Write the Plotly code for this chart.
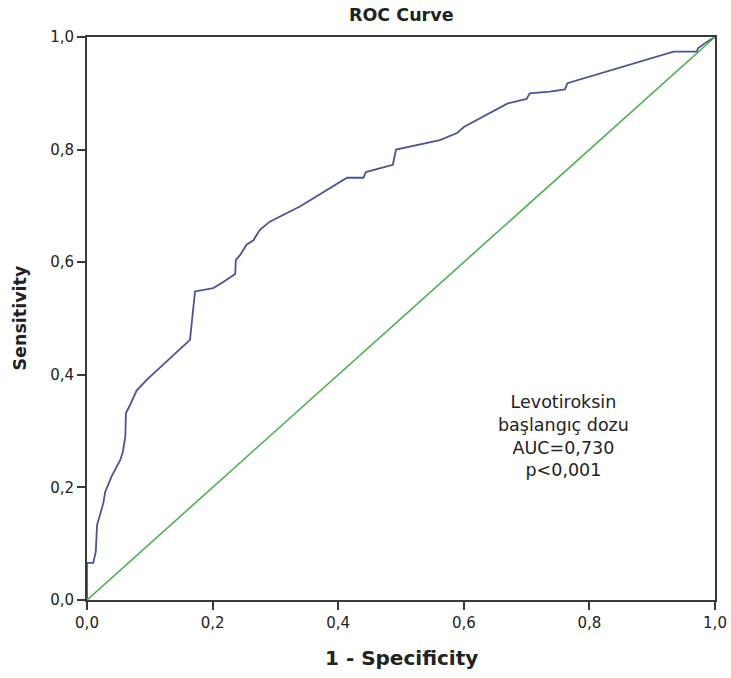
import plotly.graph_objects as go

# ROC curve points (1 - specificity, sensitivity)
fpr = [0, 0, 0.010, 0.014, 0.016, 0.026, 0.029, 0.039, 0.053, 0.057, 0.061, 0.062,
       0.068, 0.079, 0.095, 0.164, 0.172, 0.201, 0.217, 0.236, 0.237, 0.244, 0.254,
       0.265, 0.275, 0.291, 0.339, 0.414, 0.440, 0.444, 0.487, 0.492, 0.562, 0.590,
       0.600, 0.670, 0.700, 0.705, 0.737, 0.761, 0.765, 0.934, 0.971, 0.973, 0.985, 1.0]
tpr = [0, 0.066, 0.066, 0.086, 0.133, 0.172, 0.192, 0.219, 0.249, 0.263, 0.290, 0.332,
       0.345, 0.372, 0.391, 0.462, 0.548, 0.554, 0.565, 0.579, 0.604, 0.613, 0.631,
       0.639, 0.657, 0.672, 0.699, 0.750, 0.750, 0.760, 0.773, 0.800, 0.817, 0.830,
       0.840, 0.882, 0.890, 0.900, 0.903, 0.907, 0.918, 0.974, 0.974, 0.980, 0.990, 1.0]
ref_x = [0, 1]
ref_y = [0, 1]
tick_vals = [0, 0.2, 0.4, 0.6, 0.8, 1.0]
note_lines = ["Levotiroksin", "başlangıç dozu", "AUC=0,730", "p<0,001"]

FONT = "DejaVu Sans"
TXT = "#222222"

fig = go.Figure()
fig.add_trace(go.Scatter(x=fpr, y=tpr, mode="lines",
                         line=dict(color="#4a5592", width=1.8), showlegend=False))
fig.add_trace(go.Scatter(x=ref_x, y=ref_y, mode="lines",
                         line=dict(color="#4cb04f", width=1.6), showlegend=False))

axis_common = dict(range=[0, 1], tickvals=tick_vals, tickformat=".1f",
                   showline=True, linecolor="#3a3a3a", linewidth=2, mirror=True,
                   ticks="outside", ticklen=8, tickwidth=2, tickcolor="#3a3a3a",
                   showgrid=False, zeroline=False, automargin=False,
                   tickfont=dict(family=FONT, size=15, color=TXT))
fig.update_xaxes(**axis_common)
fig.update_yaxes(**axis_common)

annotations = [
    dict(x=0.758, y=0.292, xref="x", yref="y", text="<br>".join(note_lines),
         showarrow=False, xanchor="center", yanchor="middle", align="center",
         font=dict(family=FONT, size=17.5, color=TXT)),
    dict(x=0.5, y=1 + 22 / 563, xref="paper", yref="paper",
         text="<b>ROC Curve</b>", showarrow=False,
         xanchor="center", yanchor="middle",
         font=dict(family=FONT, size=17.5, color=TXT)),
    dict(x=0.5, y=-58 / 563, xref="paper", yref="paper",
         text="<b>1 - Specificity</b>", showarrow=False,
         xanchor="center", yanchor="middle",
         font=dict(family=FONT, size=20, color=TXT)),
    dict(x=(19 - 87) / 628, y=0.5, xref="paper", yref="paper",
         text="<b>Sensitivity</b>", showarrow=False, textangle=-90,
         xanchor="center", yanchor="middle",
         font=dict(family=FONT, size=17.5, color=TXT)),
]

fig.update_layout(width=731, height=678, margin=dict(l=87, r=16, t=37, b=78),
                  paper_bgcolor="white", plot_bgcolor="white",
                  separators=",.", annotations=annotations)

fig.write_html("out.html")
